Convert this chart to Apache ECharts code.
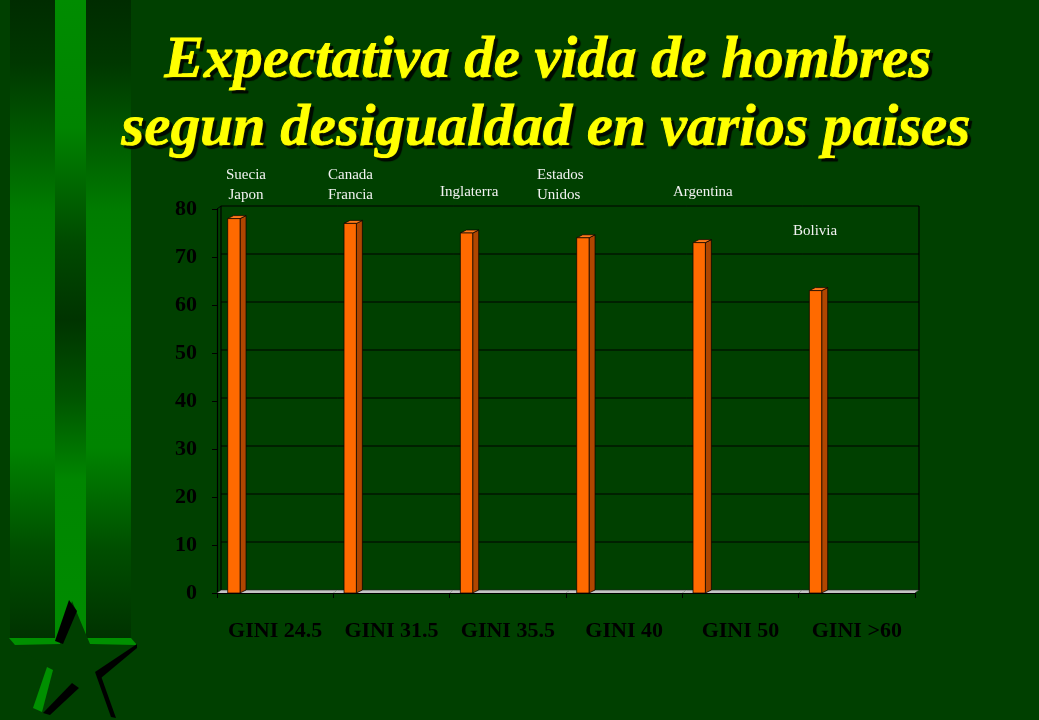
<!DOCTYPE html>
<html>
<head>
<meta charset="utf-8">
<script src="https://cdn.jsdelivr.net/npm/echarts@6/dist/echarts.min.js"></script>
<style>
html,body{margin:0;padding:0;background:#004000;}
#chart{width:1039px;height:720px;}
</style>
</head>
<body>
<div id="chart"></div>
<script>
// ---- data ----
const categories = ['GINI 24.5', 'GINI 31.5', 'GINI 35.5', 'GINI 40', 'GINI 50', 'GINI >60'];
const lifeExpectancy = [78, 77, 75, 74, 73, 63];
const countries = ['Suecia\nJapon', 'Canada\nFrancia', 'Inglaterra', 'Estados\nUnidos', 'Argentina', 'Bolivia'];
const titleLines = ['Expectativa de vida de hombres', 'segun desigualdad en varios paises'];
const yMin = 0, yMax = 80, yStep = 10;

// ---- layout / style ----
const BG = '#004000';
const SERIF = '"Liberation Serif", "DejaVu Serif", serif';
const WDX = 4, WDY = -3;   // back wall depth offset
const BDX = 6, BDY = -3;   // bar depth offset
const labelLayout = [
  {x: 246, y: 185, align: 'center'},
  {x: 328, y: 185, align: 'left'},
  {x: 440, y: 192, align: 'left'},
  {x: 537, y: 185, align: 'left'},
  {x: 673, y: 192, align: 'left'},
  {x: 793, y: 231, align: 'left'}
];

const chart = echarts.init(document.getElementById('chart'));

function renderWall(params, api) {
  const i = api.value(0);
  const band = api.size([1, 0])[0];
  const c = api.coord([i, 0]);
  const x0 = c[0] - band / 2, x1 = c[0] + band / 2, y0 = c[1];
  const yTop = api.coord([i, yMax])[1];
  const ch = [];
  for (let v = yMin + yStep; v <= yMax; v += yStep) {
    const y = api.coord([i, v])[1] + WDY;
    ch.push({type: 'line', shape: {x1: x0 + WDX, y1: y, x2: x1 + WDX, y2: y}, style: {stroke: '#000', lineWidth: 1.2}});
  }
  ch.push({type: 'polygon', shape: {points: [[x0, y0], [x1, y0], [x1 + WDX, y0 + WDY], [x0 + WDX, y0 + WDY]]},
    style: {fill: '#c4c4c4'}});
  ch.push({type: 'line', shape: {x1: x0 + WDX, y1: y0 + WDY, x2: x1 + WDX, y2: y0 + WDY}, style: {stroke: '#222', lineWidth: 0.6}});
  if (i === 0) {
    ch.push({type: 'line', shape: {x1: x0 + WDX, y1: y0 + WDY, x2: x0 + WDX, y2: yTop + WDY}, style: {stroke: '#000', lineWidth: 1.2}});
    ch.push({type: 'line', shape: {x1: x0, y1: yTop, x2: x0 + WDX, y2: yTop + WDY}, style: {stroke: '#000', lineWidth: 1}});
    ch.push({type: 'line', shape: {x1: x0, y1: y0, x2: x0 + WDX, y2: y0 + WDY}, style: {stroke: '#222', lineWidth: 0.6}});
  }
  if (i === categories.length - 1) {
    ch.push({type: 'line', shape: {x1: x1 + WDX, y1: y0 + WDY, x2: x1 + WDX, y2: yTop + WDY}, style: {stroke: '#000', lineWidth: 1.2}});
    ch.push({type: 'line', shape: {x1: x1, y1: y0, x2: x1 + WDX, y2: y0 + WDY}, style: {stroke: '#222', lineWidth: 0.6}});
  }
  return {type: 'group', children: ch};
}

function renderBar(params, api) {
  const i = api.value(0);
  const v = api.value(1);
  const band = api.size([1, 0])[0];
  const c = api.coord([i, 0]);
  const start = c[0] - band / 2;
  const bx = start + band * 0.092;
  const bw = band * 0.106;
  const yb = c[1];
  const yt = api.coord([i, v])[1];
  return {type: 'group', children: [
    {type: 'polygon', shape: {points: [[bx + bw, yt], [bx + bw + BDX, yt + BDY], [bx + bw + BDX, yb + BDY], [bx + bw, yb]]},
      style: {fill: '#b04600', stroke: '#000', lineWidth: 0.7}},
    {type: 'polygon', shape: {points: [[bx, yt], [bx + BDX, yt + BDY], [bx + bw + BDX, yt + BDY], [bx + bw, yt]]},
      style: {fill: '#ff7a1a', stroke: '#000', lineWidth: 0.7}},
    {type: 'rect', shape: {x: bx, y: yt, width: bw, height: yb - yt},
      style: {fill: '#ff6a00', stroke: '#000', lineWidth: 0.7}}
  ]};
}

function vgrad(stops) {
  return {type: 'linear', x: 0, y: 0, x2: 0, y2: 1,
    colorStops: stops.map(s => ({offset: s[0], color: s[1]}))};
}
const sideStops = [[0, '#002c00'], [0.1, '#003800'], [0.33, '#007c00'], [0.5, '#008700'], [0.7, '#008400'], [0.86, '#004e00'], [1, '#003200']];
const midStops = [[0, '#008c00'], [0.2, '#008400'], [0.38, '#004a00'], [0.5, '#003400'], [0.62, '#005400'], [0.75, '#008600'], [1, '#008c00']];

const starFront = [[72, 601], [90, 644], [135, 645], [97, 672], [113, 716], [78, 688], [42, 713], [51, 669], [14, 645], [60, 644]];

const titleStyle = {font: 'italic bold 59px ' + SERIF, fill: '#ffff00', stroke: '#ffff00', lineWidth: 1,
  align: 'center', verticalAlign: 'middle', textShadowColor: 'rgba(0,0,0,0.85)', textShadowOffsetX: 3, textShadowOffsetY: 3, textShadowBlur: 1};

const graphics = [
  {type: 'rect', shape: {x: 10, y: 0, width: 45, height: 639}, style: {fill: vgrad(sideStops)}, z: 0},
  {type: 'rect', shape: {x: 55, y: 0, width: 31, height: 639}, style: {fill: vgrad(midStops)}, z: 0},
  {type: 'rect', shape: {x: 86, y: 0, width: 45, height: 639}, style: {fill: vgrad(sideStops)}, z: 0},
  {type: 'polygon', shape: {points: [[9, 638], [131, 638], [137, 645], [15, 645]]}, style: {fill: '#009000'}, z: 1},
  {type: 'polygon', shape: {points: starFront}, style: {fill: BG}, z: 2},
  // bevels of the star
  {type: 'polygon', shape: {points: [[69, 600], [77, 611], [63, 644], [55, 641]]}, style: {fill: '#000'}, z: 3},
  {type: 'polygon', shape: {points: [[137, 644], [137, 648], [101, 678], [95, 672]]}, style: {fill: '#000'}, z: 3},
  {type: 'polygon', shape: {points: [[95, 672], [101, 676], [116, 718], [111, 717]]}, style: {fill: '#000'}, z: 3},
  {type: 'polygon', shape: {points: [[72, 683], [79, 688], [50, 715], [43, 713]]}, style: {fill: '#000'}, z: 3},
  {type: 'polygon', shape: {points: [[47, 667], [53, 670], [42, 712], [33, 708]]}, style: {fill: '#009000'}, z: 3},
  {type: 'text', x: 548, y: 62, z: 10, style: Object.assign({text: titleLines[0]}, titleStyle)},
  {type: 'text', x: 546, y: 130, z: 10, style: Object.assign({text: titleLines[1]}, titleStyle)}
];
countries.forEach((name, i) => {
  const L = labelLayout[i];
  graphics.push({type: 'text', x: L.x, y: L.y, z: 10, style: {text: name, font: '15px ' + SERIF, fill: '#f2f2f2',
    align: L.align, verticalAlign: 'middle', lineHeight: 20}});
});

chart.setOption({
  backgroundColor: BG,
  animation: false,
  grid: {left: 217, right: 124, top: 209, bottom: 127},
  xAxis: {
    type: 'category', data: categories,
    axisLine: {show: true, lineStyle: {color: '#000', width: 1.2}},
    axisTick: {show: true, length: 5, lineStyle: {color: '#000'}},
    axisLabel: {color: '#000', fontFamily: SERIF, fontWeight: 'bold', fontSize: 22, margin: 27, interval: 0},
    splitLine: {show: false}
  },
  yAxis: {
    type: 'value', min: yMin, max: yMax, interval: yStep,
    axisLine: {show: true, lineStyle: {color: '#000', width: 1.2}},
    axisTick: {show: true, length: 5, lineStyle: {color: '#000'}},
    axisLabel: {color: '#000', fontFamily: SERIF, fontWeight: 'bold', fontSize: 22, margin: 20},
    splitLine: {show: false}
  },
  graphic: graphics,
  series: [
    {type: 'custom', name: 'wall', renderItem: renderWall, clip: false, z: 1, silent: true,
      data: categories.map((c, i) => [i, 0])},
    {type: 'custom', name: 'Expectativa de vida', renderItem: renderBar, clip: false, z: 3,
      encode: {x: 0, y: 1},
      data: lifeExpectancy.map((v, i) => [i, v])}
  ]
});
</script>
</body>
</html>
